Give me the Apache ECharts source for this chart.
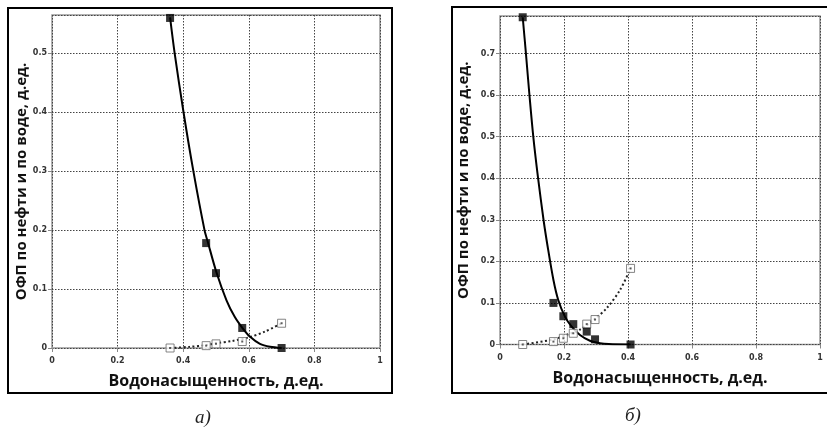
<!DOCTYPE html>
<html>
<head>
<meta charset="utf-8">
<script src="https://cdn.jsdelivr.net/npm/echarts@6/dist/echarts.min.js"></script>
<style>
  html, body { margin: 0; padding: 0; background: #fff; }
  #chart { width: 827px; height: 428px; }
</style>
</head>
<body>
<div id="chart"></div>
<script>
// Relative permeability (ОФП) of oil and water vs. water saturation, two samples.

// ---- Sample а) ----
const swA        = [0.36, 0.47, 0.50, 0.58, 0.70];
const kroA       = [0.56, 0.178, 0.127, 0.034, 0.0];
const krwA       = [0.0, 0.004, 0.007, 0.011, 0.042];
// fitted oil curve (Sw, kro)
const oilFitA = [
  [0.36, 0.561], [0.374, 0.50], [0.401, 0.40], [0.431, 0.30], [0.465, 0.20],
  [0.475, 0.18], [0.501, 0.129], [0.532, 0.081], [0.557, 0.053], [0.582, 0.033],
  [0.604, 0.019], [0.634, 0.007], [0.665, 0.002], [0.70, 0.0]
];
// fitted water curve (Sw, krw)
const waterFitA = [
  [0.36, 0.0], [0.42, 0.002], [0.47, 0.005], [0.50, 0.008], [0.55, 0.012],
  [0.60, 0.018], [0.65, 0.028], [0.70, 0.042]
];

// ---- Sample б) ----
const swB        = [0.071, 0.167, 0.198, 0.229, 0.271, 0.297, 0.408];
const kroB       = [0.787, 0.100, 0.068, 0.049, 0.031, 0.0125, 0.0];
const krwB       = [0.0, 0.007, 0.015, 0.027, 0.049, 0.060, 0.183];
const oilFitB = [
  [0.071, 0.787], [0.081, 0.70], [0.092, 0.60], [0.104, 0.50], [0.119, 0.40],
  [0.136, 0.30], [0.149, 0.235], [0.167, 0.155], [0.182, 0.107], [0.203, 0.067],
  [0.224, 0.043], [0.25, 0.023], [0.281, 0.009], [0.3125, 0.003], [0.34, 0.001],
  [0.408, 0.0]
];
const waterFitB = [
  [0.071, 0.0], [0.167, 0.012], [0.208, 0.023], [0.25, 0.036], [0.292, 0.059],
  [0.333, 0.087], [0.375, 0.131], [0.408, 0.183]
];

// axis ranges and labels
const xMin = 0, xMax = 1, xStep = 0.2;
const yStep = 0.1;
const yMaxA = 0.565, yMaxB = 0.79;
const xTitle = 'Водонасыщенность, д.ед.';
const yTitle = 'ОФП по нефти и по воде, д.ед.';
const captions = ['а)', 'б)'];

const zip = (xs, ys) => xs.map((x, i) => [x, ys[i]]);

const tickFont = { fontFamily: 'DejaVu Sans', fontSize: 8, fontWeight: 'bold', color: '#333' };
const titleFont = { fontFamily: 'Open Sans', fontSize: 16, fontWeight: 'bold', color: '#111' };
const gridLine = { show: true, lineStyle: { color: '#444', width: 1, type: [1.5, 1.5] } };

function xAxisFor(gridIndex, nameGap) {
  return {
    type: 'value', gridIndex, min: xMin, max: xMax, interval: xStep,
    name: xTitle, nameLocation: 'middle', nameGap,
    nameTextStyle: titleFont,
    axisLine: { show: false },
    axisTick: { show: true, length: 4, lineStyle: { color: '#888' } },
    axisLabel: Object.assign({ margin: 9 }, tickFont),
    splitLine: gridLine
  };
}
function yAxisFor(gridIndex, max, nameGap) {
  return {
    type: 'value', gridIndex, min: 0, max, interval: yStep,
    name: yTitle, nameLocation: 'middle', nameGap,
    nameTextStyle: Object.assign({}, titleFont, { fontSize: 15 }),
    axisLine: { show: false },
    axisTick: { show: true, length: 4, lineStyle: { color: '#888' } },
    axisLabel: Object.assign({ margin: 5, showMaxLabel: false }, tickFont),
    splitLine: gridLine
  };
}

function seriesFor(idx, oilFit, waterFit, sw, kro, krw) {
  const ax = { xAxisIndex: idx, yAxisIndex: idx };
  return [
    Object.assign({
      type: 'line', data: waterFit, smooth: 0.3, showSymbol: false, z: 3,
      lineStyle: { color: '#222', width: 2, type: [2, 2.5] }
    }, ax),
    Object.assign({
      type: 'line', data: oilFit, smooth: 0.3, showSymbol: false, z: 3,
      lineStyle: { color: '#000', width: 2 }
    }, ax),
    Object.assign({
      type: 'scatter', data: zip(sw, krw), symbol: 'rect', symbolSize: 8, z: 4,
      itemStyle: { color: '#fff', borderColor: '#666', borderWidth: 1 }
    }, ax),
    Object.assign({
      type: 'scatter', data: zip(sw, krw), symbol: 'rect', symbolSize: 2, z: 5,
      itemStyle: { color: '#333' }
    }, ax),
    Object.assign({
      type: 'scatter', data: zip(sw, kro), symbol: 'rect', symbolSize: 8, z: 6,
      itemStyle: { color: '#000' }
    }, ax)
  ];
}

const chart = echarts.init(document.getElementById('chart'), null, { renderer: 'canvas' });
chart.setOption({
  backgroundColor: '#fff',
  animation: false,
  grid: [
    { left: 52, top: 15, width: 328, height: 333, show: true, borderColor: '#999', borderWidth: 1.5, backgroundColor: 'transparent' },
    { left: 500, top: 16, width: 320, height: 328.5, show: true, borderColor: '#999', borderWidth: 1.5, backgroundColor: 'transparent' }
  ],
  xAxis: [xAxisFor(0, 25), xAxisFor(1, 26)],
  yAxis: [yAxisFor(0, yMaxA, 22), yAxisFor(1, yMaxB, 29)],
  series: [
    ...seriesFor(0, oilFitA, waterFitA, swA, kroA, krwA),
    ...seriesFor(1, oilFitB, waterFitB, swB, kroB, krwB)
  ],
  graphic: [
    { type: 'rect', shape: { x: 8, y: 8, width: 384, height: 385 }, style: { fill: 'none', stroke: '#000', lineWidth: 2 }, silent: true },
    { type: 'rect', shape: { x: 452, y: 7, width: 390, height: 386 }, style: { fill: 'none', stroke: '#000', lineWidth: 2 }, silent: true },
    { type: 'text', x: 203, y: 418, style: { text: captions[0], font: 'italic 19px "Liberation Serif"', fill: '#222', align: 'center', verticalAlign: 'middle' } },
    { type: 'text', x: 633, y: 416, style: { text: captions[1], font: 'italic 19px "Liberation Serif"', fill: '#222', align: 'center', verticalAlign: 'middle' } }
  ]
});
</script>
</body>
</html>
